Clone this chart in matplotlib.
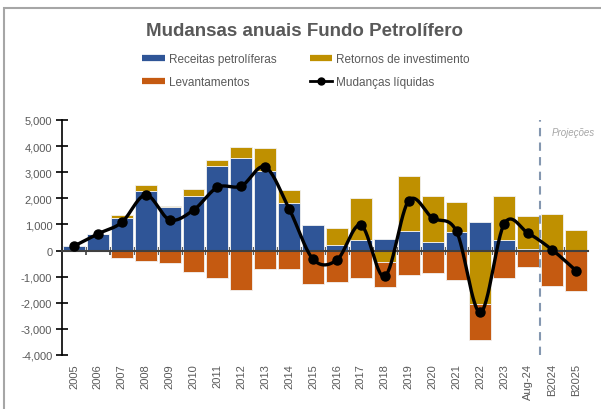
import numpy as np
import matplotlib
matplotlib.use("Agg")
import matplotlib.pyplot as plt
from matplotlib.lines import Line2D
from matplotlib.patches import Rectangle
from matplotlib.ticker import FuncFormatter

plt.rcParams["font.family"] = ["Liberation Sans", "DejaVu Sans"]

# -------------------------
# Data (USD millions)
# -------------------------
periods = ["2005", "2006", "2007", "2008", "2009", "2010", "2011", "2012",
           "2013", "2014", "2015", "2016", "2017", "2018", "2019", "2020",
           "2021", "2022", "2023", "Aug-24", "B2024", "B2025"]

oil_revenue = [170, 630, 1260, 2290, 1680, 2100, 3250, 3560, 3060, 1820, 980,
               220, 410, 440, 760, 310, 720, 1100, 410, 60, 20, 0]

investment_returns = [0, 10, 110, 220, 20, 260, 220, 420, 870, 510, 0,
                      650, 1610, -450, 2110, 1790, 1150, -2060, 1690, 1250, 1380, 800]

withdrawals = [0, 0, -290, -390, -490, -810, -1040, -1500, -710, -710, -1280,
               -1220, -1050, -960, -950, -860, -1130, -1370, -1070, -620, -1360, -1540]

net_change = [170, 640, 1080, 2130, 1180, 1550, 2420, 2470, 3200, 1600, -330,
              -360, 980, -990, 1910, 1245, 735, -2370, 1030, 660, 30, -770]

BLUE = "#2F5597"
GOLD = "#BF9000"
ORANGE = "#C55A11"
GREY = "#595959"


def smooth_line(xs, ys, steps=30):
    # Excel-style smoothed line: cubic Bezier between points
    xs = np.asarray(xs, float)
    ys = np.asarray(ys, float)
    pts = np.column_stack([xs, ys])
    n = len(pts)
    out = []
    for i in range(n - 1):
        p0 = pts[max(i - 1, 0)]
        p1 = pts[i]
        p2 = pts[i + 1]
        p3 = pts[min(i + 2, n - 1)]
        c1 = p1 + (p2 - p0) / 6.0
        c2 = p2 - (p3 - p1) / 6.0
        t = np.linspace(0, 1, steps)[:, None]
        seg = ((1 - t) ** 3) * p1 + 3 * ((1 - t) ** 2) * t * c1 \
            + 3 * (1 - t) * t ** 2 * c2 + t ** 3 * p2
        out.append(seg if i == 0 else seg[1:])
    out = np.vstack(out)
    return out[:, 0], out[:, 1]


x = np.arange(len(periods))
rev = np.array(oil_revenue)
ret = np.array(investment_returns)
wd = np.array(withdrawals)

fig = plt.figure(figsize=(6.01, 4.10), dpi=100)
ax = fig.add_axes([62 / 601, (410 - 356) / 410, 526 / 601, 235 / 410])

# outer frame
fig.patches.append(Rectangle((4 / 601, -0.1), 1.2, (410 - 9) / 410 + 0.1,
                             transform=fig.transFigure, fill=False,
                             edgecolor="#A6A6A6", linewidth=1.5))

w = 0.92
ax.bar(x, rev, w, color=BLUE, edgecolor="#F2F2F2", linewidth=0.6, zorder=2)
ret_bottom = np.where(ret > 0, rev, 0)
ax.bar(x, ret, w, bottom=ret_bottom, color=GOLD, edgecolor="#F2F2F2",
       linewidth=0.6, zorder=2)
wd_bottom = np.where(ret < 0, ret, 0)
ax.bar(x, wd, w, bottom=wd_bottom, color=ORANGE, edgecolor="#F2F2F2",
       linewidth=0.6, zorder=2)

sx, sy = smooth_line(x, net_change)
ax.plot(sx, sy, color="black", linewidth=2.4, zorder=4)
ax.plot(x, net_change, "o", color="black", markersize=6.5, zorder=5)

# projections divider
ax.axvline(19.5, color="#8497B0", linestyle=(0, (4, 3)), linewidth=1.5, zorder=3)
ax.text(20.9, 4550, "Projeções", ha="center", va="center", style="italic",
        fontsize=7, color="#A6A6A6")

ax.set_xlim(-0.5, len(periods) - 0.5)
ax.set_ylim(-4000, 5000)
ax.set_yticks(np.arange(-4000, 5001, 1000))
ax.yaxis.set_major_formatter(FuncFormatter(lambda v, p: f"{int(v):,}"))
ax.tick_params(axis="y", direction="inout", length=8, width=1.2,
               labelsize=8, labelcolor=GREY, pad=3)

for s in ["top", "right"]:
    ax.spines[s].set_visible(False)
ax.spines["left"].set_linewidth(1.2)
ax.spines["bottom"].set_position(("data", 0))
ax.spines["bottom"].set_color("#404040")
ax.spines["bottom"].set_linewidth(1.5)
ax.spines["bottom"].set_zorder(3)
ax.set_xticks(x)
ax.set_xticks(x[:-1] + 0.5, minor=True)
ax.tick_params(axis="x", which="major", length=0, labelbottom=False)
ax.tick_params(axis="x", which="minor", direction="inout", length=6,
               width=1.2, color="#404040")

sec = ax.secondary_xaxis("bottom")
sec.set_xticks(x, periods, rotation=90)
sec.tick_params(length=0, labelsize=8, labelcolor=GREY, pad=6)
sec.spines["bottom"].set_visible(False)

fig.text(304 / 601, (410 - 32) / 410, "Mudansas anuais Fundo Petrolífero",
         ha="center", va="center", fontsize=13.5, fontweight="bold", color=GREY)

handles = [
    Line2D([0], [0], color=BLUE, linewidth=4.5, solid_capstyle="butt"),
    Line2D([0], [0], color=ORANGE, linewidth=4.5, solid_capstyle="butt"),
    Line2D([0], [0], color=GOLD, linewidth=4.5, solid_capstyle="butt"),
    Line2D([0], [0], color="black", linewidth=2, marker="o", markersize=5),
]
labels = ["Receitas petrolíferas", "Levantamentos",
          "Retornos de investimento", "Mudanças líquidas"]
fig.legend(handles, labels, ncol=2, loc="center", frameon=False,
           bbox_to_anchor=(306 / 601, (410 - 71.5) / 410), fontsize=8.5,
           labelcolor=GREY, handlelength=1.9, handletextpad=0.35,
           columnspacing=2.8, labelspacing=0.9)

fig.savefig("out.png", dpi=100)
